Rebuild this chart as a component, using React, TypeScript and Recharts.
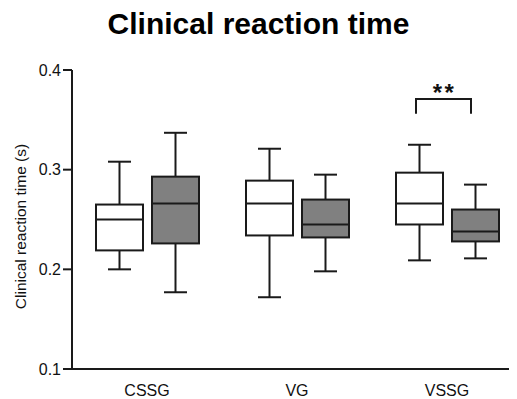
import { ComposedChart, Bar, XAxis, YAxis, ReferenceLine } from "recharts";

const groups = ["CSSG", "VG", "VSSG"];

// white boxes
const whiteLow = [0.2, 0.172, 0.209];
const whiteQ1 = [0.219, 0.234, 0.245];
const whiteMed = [0.25, 0.266, 0.266];
const whiteQ3 = [0.265, 0.289, 0.297];
const whiteHigh = [0.308, 0.321, 0.325];

// gray boxes
const grayLow = [0.177, 0.198, 0.211];
const grayQ1 = [0.226, 0.232, 0.228];
const grayMed = [0.266, 0.245, 0.238];
const grayQ3 = [0.293, 0.27, 0.26];
const grayHigh = [0.337, 0.295, 0.285];

const yTicks = [0.1, 0.2, 0.3, 0.4];

// significance bracket
const sigGroup = "VSSG";
const sigTop = 0.371;
const sigLeg = 0.356;
const sigLabel = "**";

const data = groups.map((name, i) => ({
  name,
  w: [whiteLow[i], whiteQ1[i], whiteMed[i], whiteQ3[i], whiteHigh[i]],
  g: [grayLow[i], grayQ1[i], grayMed[i], grayQ3[i], grayHigh[i]],
}));

const INK = "#1a1a1a";

function BoxShape(props: any) {
  const { x, y, width, height, payload, k, color } = props;
  const [lo, q1, med, q3, hi] = payload[k] as number[];
  const top = Math.min(y, y + height);
  const bottom = Math.max(y, y + height);
  const py = (v: number) => top + ((hi - v) / (hi - lo)) * (bottom - top);
  const cx = x + width / 2;
  const cap = 11.5;
  return (
    <g stroke={INK} strokeWidth={2}>
      <line x1={cx} x2={cx} y1={py(hi)} y2={py(q3)} />
      <line x1={cx} x2={cx} y1={py(q1)} y2={py(lo)} />
      <line x1={cx - cap} x2={cx + cap} y1={py(hi)} y2={py(hi)} />
      <line x1={cx - cap} x2={cx + cap} y1={py(lo)} y2={py(lo)} />
      <rect x={x} y={py(q3)} width={width} height={py(q1) - py(q3)} fill={color} />
      <line x1={x} x2={x + width} y1={py(med)} y2={py(med)} />
    </g>
  );
}

// bracket drawn around the category centre; legs at y1 (sigLeg), bar at y2 (sigTop)
function Bracket(props: any) {
  const { x1, y1, y2 } = props;
  const left = x1 - 31;
  const right = x1 + 24;
  return (
    <g>
      <path d={`M${left},${y1}V${y2}H${right}V${y1}`} fill="none" stroke={INK} strokeWidth={2} />
      <text
        x={(left + right) / 2}
        y={y2 + 2}
        dx={1}
        textAnchor="middle"
        fill="#111"
        fontSize={24}
        fontWeight="bold"
        letterSpacing={2.5}
      >
        {sigLabel}
      </text>
    </g>
  );
}

export default function App() {
  return (
    <div style={{ position: "relative", width: 509, height: 391, overflow: "hidden", fontFamily: "'Liberation Sans', Arial, sans-serif" }}>
      <div
        style={{
          position: "absolute",
          top: 1,
          left: 0,
          width: 501,
          textAlign: "center",
          fontSize: 30,
          lineHeight: "30px",
          fontWeight: "bold",
          color: "#000",
        }}
      >
        Clinical reaction time
      </div>
      <ComposedChart width={519} height={391} data={data} margin={{ top: 62, right: 5, bottom: 0, left: 0 }} barSize={47} barGap={9}>
        <XAxis
          dataKey="name"
          height={30}
          tickLine={false}
          tickSize={6}
          tickMargin={10}
          axisLine={{ stroke: INK, strokeWidth: 2 }}
          tick={{ fill: "#111", fontSize: 16 }}
        />
        <YAxis
          width={64}
          domain={[0.1, 0.4]}
          ticks={yTicks}
          tickFormatter={(v: number) => v.toFixed(1)}
          tickSize={9}
          tickMargin={2}
          axisLine={{ stroke: INK, strokeWidth: 2 }}
          tickLine={{ stroke: INK, strokeWidth: 2 }}
          tick={{ fill: "#111", fontSize: 16 }}
          label={{ value: "Clinical reaction time (s)", angle: -90, position: "center", dx: -20, dy: 7, fill: "#111", fontSize: 15.5 }}
        />
        <Bar
          dataKey={(d: any) => [d.w[0], d.w[4]]}
          isAnimationActive={false}
          shape={(p: any) => <BoxShape {...p} k="w" color="#ffffff" />}
        />
        <Bar
          dataKey={(d: any) => [d.g[0], d.g[4]]}
          isAnimationActive={false}
          shape={(p: any) => <BoxShape {...p} k="g" color="#808080" />}
        />
        <ReferenceLine
          ifOverflow="visible"
          segment={[{ x: sigGroup, y: sigLeg }, { x: sigGroup, y: sigTop }]}
          shape={(p: any) => <Bracket {...p} />}
        />
      </ComposedChart>
    </div>
  );
}
